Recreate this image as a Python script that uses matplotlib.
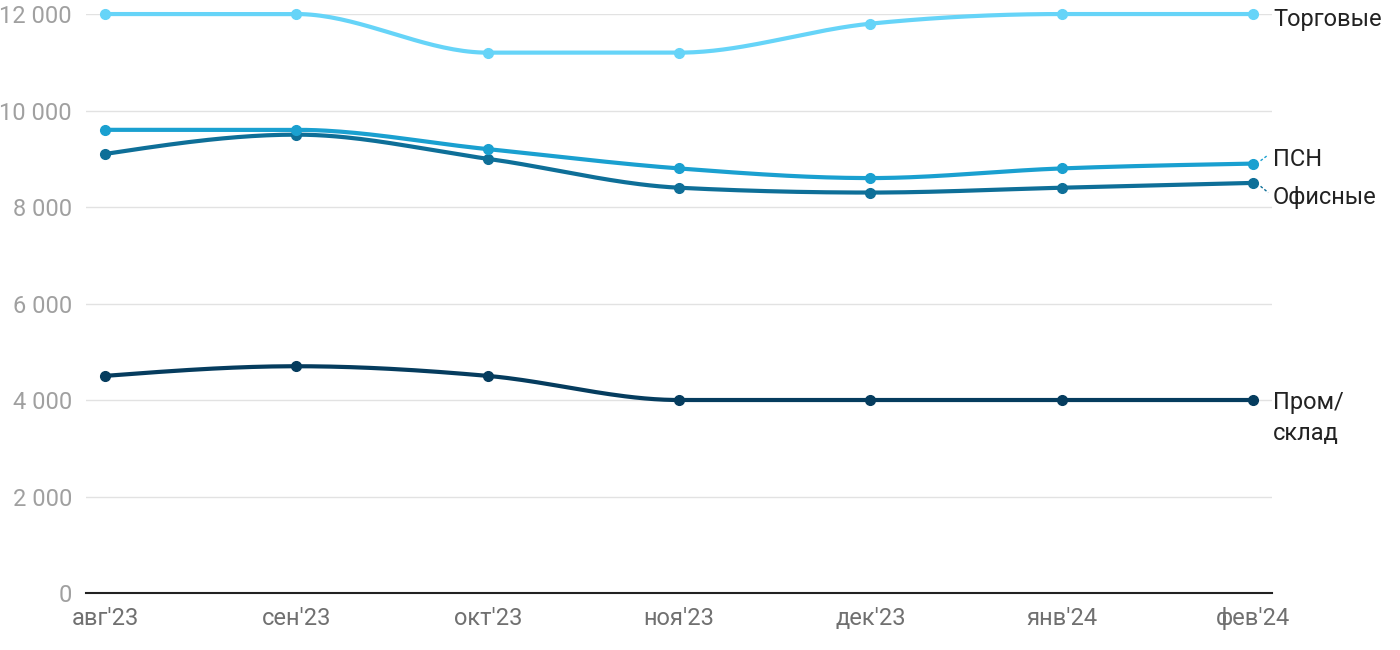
import matplotlib
matplotlib.use('Agg')
import matplotlib.pyplot as plt
import numpy as np

months = ["авг'23", "сен'23", "окт'23", "ноя'23", "дек'23", "янв'24", "фев'24"]
torg = [12000, 12000, 11200, 11200, 11800, 12000, 12000]
psn = [9600, 9600, 9200, 8800, 8600, 8800, 8900]
ofis = [9100, 9500, 9000, 8400, 8300, 8400, 8500]
prom = [4500, 4700, 4500, 4000, 4000, 4000, 4000]

names = ['Торговые', 'ПСН', 'Офисные', 'Пром/\nсклад']
colors = ['#66d4f8', '#1aa0d0', '#0e6f98', '#053c5e']
label_y = [11880, 8980, 8190, 4000]


def monotone(x, y, n=40):
    # d3-style monotone cubic, only used to draw the smooth curve between points
    x = np.asarray(x, float)
    y = np.asarray(y, float)
    h = np.diff(x)
    d = np.diff(y) / h
    m = np.zeros_like(y)
    for i in range(1, len(y) - 1):
        if d[i - 1] * d[i] <= 0:
            m[i] = 0
        else:
            s = (d[i - 1] * h[i] + d[i] * h[i - 1]) / (h[i - 1] + h[i])
            m[i] = np.sign(d[i - 1]) * min(abs(d[i - 1]), abs(d[i]), 0.5 * abs(s)) * 2
    m[0] = (3 * d[0] - m[1]) / 2
    m[-1] = (3 * d[-1] - m[-2]) / 2
    if d[0] * m[0] <= 0:
        m[0] = 0
    if d[-1] * m[-1] <= 0:
        m[-1] = 0
    xs, ys = [], []
    for i in range(len(x) - 1):
        t = np.linspace(0, 1, n)
        h00 = 2 * t**3 - 3 * t**2 + 1
        h10 = t**3 - 2 * t**2 + t
        h01 = -2 * t**3 + 3 * t**2
        h11 = t**3 - t**2
        xs.append(x[i] + t * h[i])
        ys.append(h00 * y[i] + h10 * h[i] * m[i] + h01 * y[i + 1] + h11 * h[i] * m[i + 1])
    return np.concatenate(xs), np.concatenate(ys)


plt.rcParams['font.family'] = ['Roboto', 'DejaVu Sans']
fig = plt.figure(figsize=(14, 6.5), dpi=100)
ax = fig.add_axes([0.0614, 0.0877, 0.8472, 0.8907])

x = np.arange(len(months))
for vals, c in zip([prom, ofis, psn, torg], colors[::-1]):
    sx, sy = monotone(x, vals)
    ax.plot(sx, sy, color=c, lw=3, solid_capstyle='round', zorder=3, clip_on=False)
    ax.plot(x, vals, 'o', color=c, ms=7, zorder=4, clip_on=False)

for vals, name, c, ly in zip([torg, psn, ofis, prom], names, colors, label_y):
    va = 'top' if '\n' in name else 'center'
    yy = ly + 180 if '\n' in name else ly
    ax.text(6.105, yy, name, fontsize=17, color='#222222', va=va, ha='left',
            linespacing=1.42, clip_on=False)

# small leader ticks for the two close labels
ax.plot([6.04, 6.08], [8960, 9080], color=colors[1], lw=1, ls=(0, (2, 1.5)), clip_on=False)
ax.plot([6.04, 6.08], [8430, 8300], color=colors[2], lw=1, ls=(0, (2, 1.5)), clip_on=False)

ax.set_xlim(-0.1, 6.1)
ax.set_ylim(0, 12000)
ax.set_yticks(range(0, 12001, 2000))
ax.set_yticklabels([f'{v:,}'.replace(',', ' ') for v in range(0, 12001, 2000)])
ax.set_xticks(x)
ax.set_xticklabels(months)
ax.grid(axis='y', color='#e2e2e2', lw=1, zorder=0)
ax.set_axisbelow(True)
for s in ['top', 'right', 'left']:
    ax.spines[s].set_visible(False)
ax.spines['bottom'].set_color('#222222')
ax.spines['bottom'].set_linewidth(1.5)
ax.tick_params(axis='y', length=0, pad=10, labelsize=17, labelcolor='#a0a0a0')
ax.tick_params(axis='x', length=0, pad=10, labelsize=17, labelcolor='#707070')

fig.savefig('out.png', dpi=100)
